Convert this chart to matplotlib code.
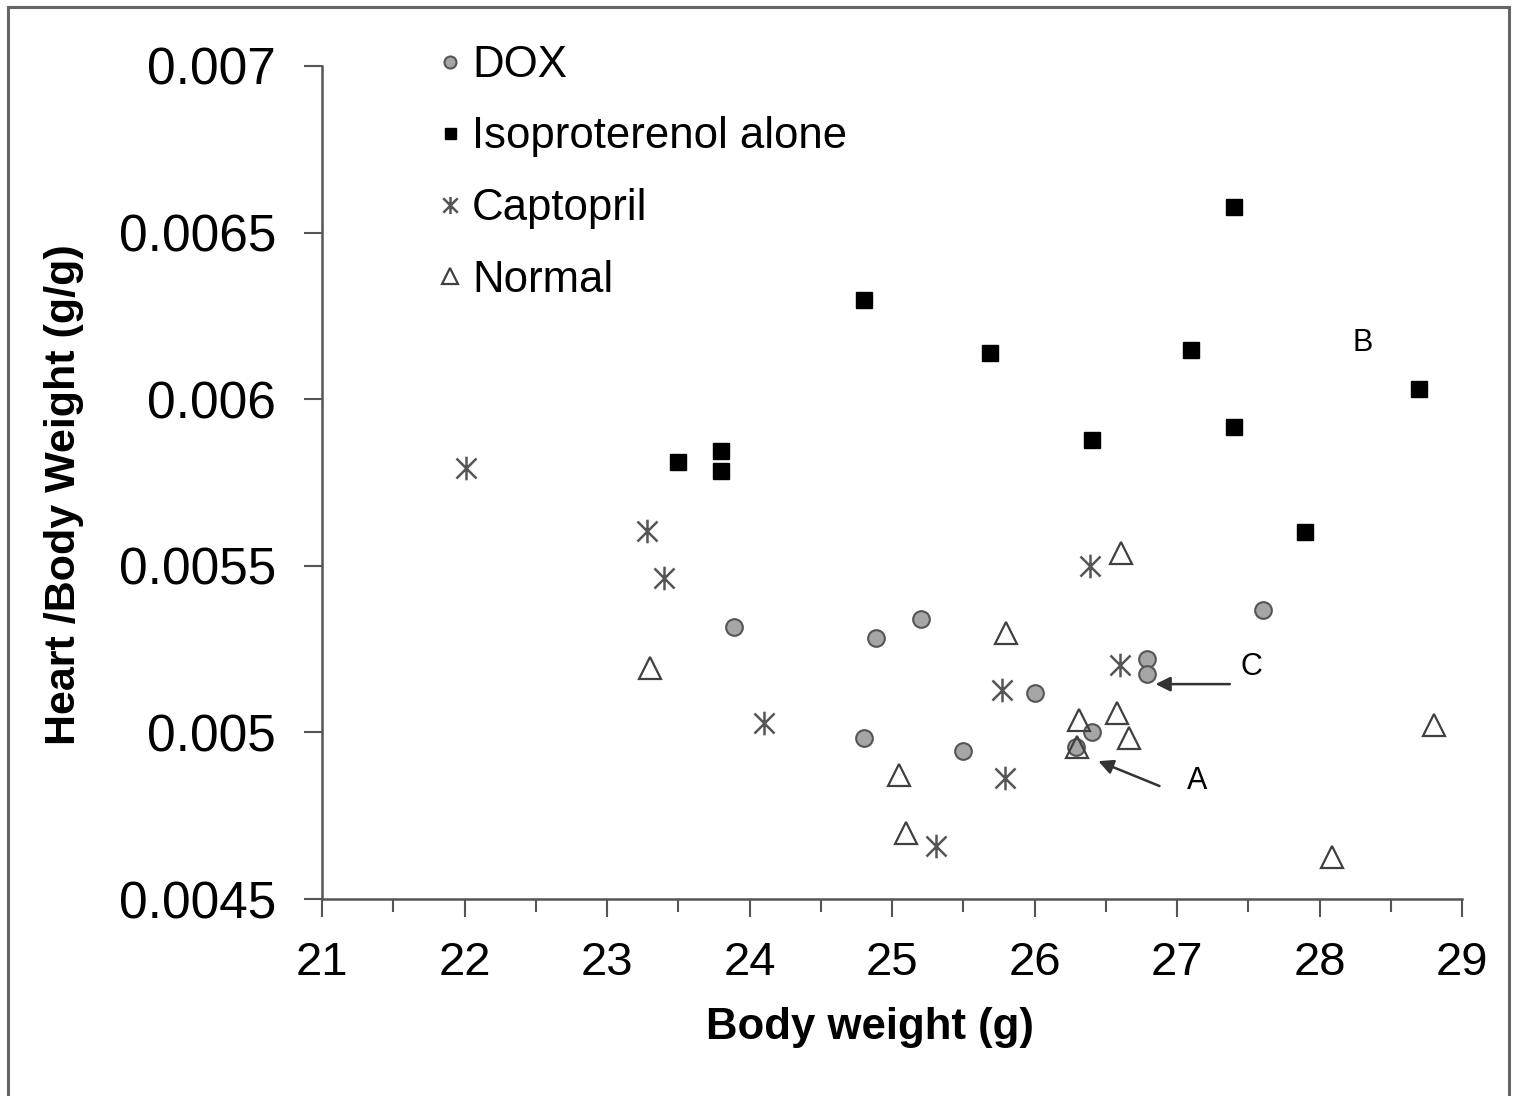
import matplotlib
matplotlib.use("Agg")
import matplotlib.pyplot as plt
from matplotlib.path import Path
from matplotlib.patches import Rectangle

plt.rcParams["font.family"] = ["Liberation Sans", "DejaVu Sans"]

# --- data ---
dox_x = [23.89, 24.89, 25.20, 24.80, 25.50, 26.00, 26.40, 26.29, 26.79, 26.79, 27.60]
dox_y = [0.005317, 0.005284, 0.005340, 0.004983, 0.004944, 0.005118,
         0.005001, 0.004956, 0.005220, 0.005175, 0.005367]

iso_x = [23.50, 23.80, 23.80, 24.80, 25.69, 26.40, 27.10, 27.40, 27.40, 27.90, 28.70]
iso_y = [0.005812, 0.005845, 0.005785, 0.006298, 0.006139, 0.005878,
         0.006148, 0.006577, 0.005917, 0.005601, 0.006031]

cap_x = [22.01, 23.28, 23.40, 24.10, 25.77, 25.79, 25.31, 26.39, 26.60]
cap_y = [0.005794, 0.005604, 0.005463, 0.005028, 0.005127, 0.004863,
         0.004659, 0.005499, 0.005202]

norm_x = [23.30, 25.05, 25.10, 25.80, 26.61, 26.31, 26.58, 26.66, 26.30, 28.80, 28.09]
norm_y = [0.005193, 0.004872, 0.004698, 0.005298, 0.005538, 0.005037,
          0.005058, 0.004983, 0.004956, 0.005022, 0.004626]

x_ticks = [21, 22, 23, 24, 25, 26, 27, 28, 29]
y_ticks = [0.0045, 0.005, 0.0055, 0.006, 0.0065, 0.007]
y_tick_labels = ["0.0045", "0.005", "0.0055", "0.006", "0.0065", "0.007"]

# asterisk marker: vertical bar plus an X
star = Path([(0, -1), (0, 1), (-0.85, -0.85), (0.85, 0.85), (-0.85, 0.85), (0.85, -0.85)],
            [Path.MOVETO, Path.LINETO] * 3)

fig = plt.figure(figsize=(15.19, 10.96), dpi=100)
ax = fig.add_axes([0.2120, 0.1797, 0.9625 - 0.2120, 0.9398 - 0.1797])

ax.plot(dox_x, dox_y, "o", ms=12, mfc="#a6a6a6", mec="#555555", mew=1.5,
        ls="none", label="DOX")
ax.plot(iso_x, iso_y, "s", ms=11, mfc="black", mec="black", ls="none",
        label="Isoproterenol alone")
ax.plot(cap_x, cap_y, marker=star, ms=17, mec="#555555", mew=1.8, ls="none",
        label="Captopril")
ax.plot(norm_x, norm_y, "^", ms=16, mfc="none", mec="#404040", mew=1.6,
        ls="none", label="Normal")

ax.set_xlim(21, 29)
ax.set_ylim(0.0045, 0.007)
ax.set_xticks(x_ticks)
ax.set_xticks([v + 0.5 for v in x_ticks[:-1]], minor=True)
ax.set_yticks(y_ticks)
ax.set_yticklabels(y_tick_labels)
ax.tick_params(axis="x", labelsize=34, length=13, width=1.5, color="#555555", pad=17)
ax.tick_params(axis="x", which="minor", length=9, width=1.5, color="#555555")
ax.tick_params(axis="y", labelsize=37, length=13, width=1.5, color="#555555", pad=20)
for side in ("top", "right"):
    ax.spines[side].set_visible(False)
for side in ("left", "bottom"):
    ax.spines[side].set_color("#555555")
    ax.spines[side].set_linewidth(1.8)

ax.set_xlabel("Body weight (g)", fontsize=31.5, fontweight="bold")
ax.set_ylabel("Heart /Body Weight (g/g)", fontsize=31, fontweight="bold")
ax.xaxis.set_label_coords(0.481, -0.1295)
ax.yaxis.set_label_coords(-0.2085, 0.485)

leg = ax.legend(loc="upper left", bbox_to_anchor=(0.0893, 1.0464), frameon=False,
                fontsize=31.5, markerscale=0.72, handlelength=0.4, handletextpad=0.3,
                labelspacing=0.70, borderaxespad=0)

# annotations
ax.annotate("", xy=(26.43, 0.004917), xytext=(26.895, 0.004836),
            arrowprops=dict(arrowstyle="-|>", color="#333333", lw=1.8, mutation_scale=22))
ax.text(27.14, 0.004855, "A", fontsize=22, ha="center", va="center")
ax.annotate("", xy=(26.83, 0.005145), xytext=(27.39, 0.005145),
            arrowprops=dict(arrowstyle="-|>", color="#333333", lw=1.8, mutation_scale=22))
ax.text(27.52, 0.005197, "C", fontsize=22, ha="center", va="center")
ax.text(28.30, 0.006169, "B", fontsize=22, ha="center", va="center")

# outer frame
fig.patches.append(Rectangle((8 / 1519, -0.05), (1509 - 8) / 1519, 1.05 - 7 / 1096,
                             transform=fig.transFigure, fill=False,
                             edgecolor="#666666", linewidth=2.2))

fig.savefig("out.png", dpi=100)
